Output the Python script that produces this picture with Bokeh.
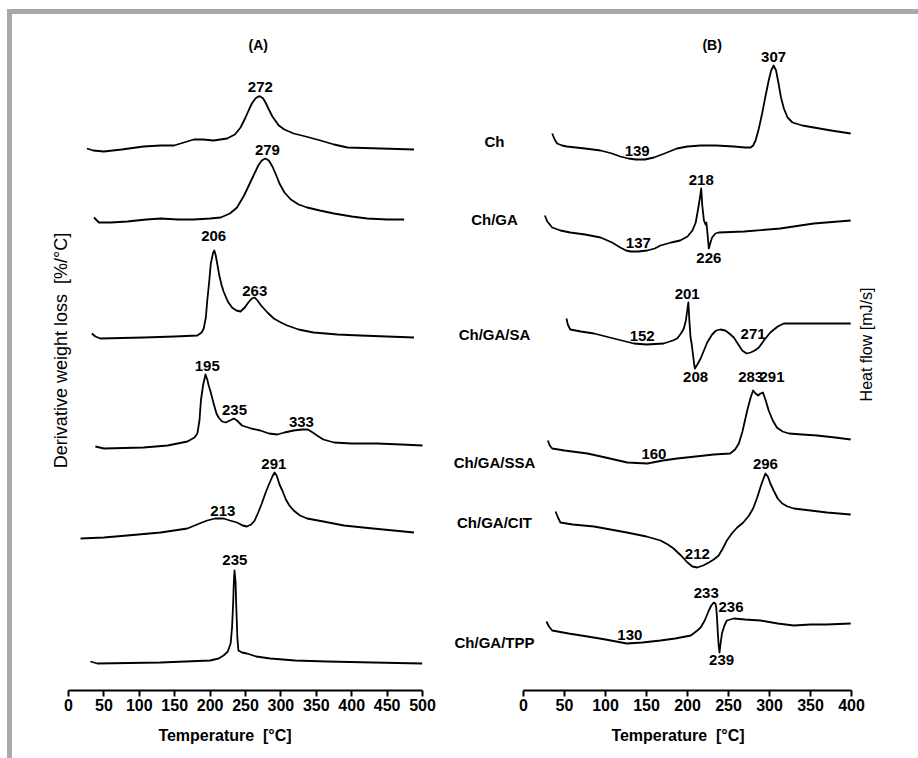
from bokeh.plotting import figure
from bokeh.layouts import row
from bokeh.models import Range1d, LinearAxis, FixedTicker
from bokeh.core.properties import value
from bokeh.embed import file_html
from bokeh.resources import INLINE

FONT = "Liberation Sans"

# ---------------- Panel A: DTG curves (temperature, relative signal) ----------------
a_names = ["Ch", "Ch/GA", "Ch/GA/SA", "Ch/GA/SSA", "Ch/GA/CIT", "Ch/GA/TPP"]
a_ch_t = [26, 35, 50, 75, 106, 130, 149, 163, 177, 190, 205, 224, 235, 243, 250, 255, 259, 264, 268,
          271, 275, 279, 283, 288, 293, 297, 305, 318, 335, 356, 375, 394, 441, 488]
a_ch_y = [1, -1, -2, 0, 3, 4, 4, 7, 10, 10, 9, 11, 15, 22, 32, 40, 46, 51, 53,
          53, 51, 46, 40, 33, 28, 24, 20, 16, 13, 9, 5, 2, 1, 0]
a_ga_t = [36, 43, 60, 83, 110, 130, 155, 177, 200, 215, 228, 238, 248, 256, 262, 268, 273, 278, 283,
          288, 293, 298, 305, 314, 325, 337, 355, 375, 400, 422, 450, 474]
a_ga_y = [2, -3, -3, -2, 0, 1, 0, 0, 1, 2, 6, 12, 24, 36, 45, 54, 59, 61, 59,
          53, 45, 36, 27, 20, 15, 12, 9, 6, 3, 1, 0, 0]
a_sa_t = [33, 38, 45, 106, 150, 182, 188, 191, 194, 196, 199, 201, 204, 206, 208, 210, 213, 216, 219,
          225, 231, 237, 243, 249, 254, 259, 263, 267, 272, 281, 290, 300, 309, 325, 346, 380, 412, 450, 488]
a_sa_y = [4, 1, -1, 0, 1, 2, 5, 9, 20, 37, 58, 74, 84, 87, 82, 74, 62, 53, 46,
          36, 30, 27, 26, 30, 35, 39, 40, 37, 32, 25, 19, 15, 12, 8, 5, 3, 2, 1, 0]
a_ssa_t = [38, 50, 106, 140, 168, 178, 182, 185, 187, 190, 193.5, 196, 198, 200.6, 205, 209, 212, 217,
           222, 228, 233.5, 238, 245, 258, 271, 283, 295, 305, 318, 330, 338, 345, 351, 360, 375, 400,
           436, 470, 500]
a_ssa_y = [-1, -3, -2, 0, 4, 8, 12, 25, 45, 60, 71, 66, 60, 54, 42, 32, 28, 24,
           23, 25, 27, 25, 20, 17, 15, 12, 11, 13, 15, 16, 16, 13, 10, 6, 3, 2,
           2, 1, 0]
a_cit_t = [17, 50, 83, 130, 168, 185, 196, 207, 219, 228, 238, 246, 252, 258, 263, 268, 273, 278, 283,
           288, 291, 294, 298, 302, 307, 312, 318, 327, 337, 360, 389, 430, 488]
a_cit_y = [-6, -5, -3, 0, 4, 9, 12, 14, 14, 12, 10, 7, 6, 8, 12, 20, 29, 39, 48,
           56, 60, 57, 48, 42, 33, 27, 22, 17, 14, 11, 7, 4, 0]
a_tpp_t = [31, 40.5, 130, 200, 212, 219, 225, 229, 231, 232.6, 233.5, 234.5, 236, 237, 238.5, 240,
           245, 252, 265, 285, 320, 365, 430, 499.5]
a_tpp_y = [1, -1, 0, 2, 4, 7, 11, 19, 35, 60, 80, 92, 80, 55, 25, 12,
           10, 9, 6, 4, 2, 1, 0, -1]
a_offsets = [541, 471, 353, 245, 158, 28]

a_peak_text = ["272", "279", "206", "263", "195", "235", "333", "291", "213", "235"]
a_peak_t = [271, 281, 205, 263, 196, 234.5, 329, 290, 218, 235]
a_peak_y = [604, 541, 455, 400, 325, 281, 269, 227, 180, 131]

# ---------------- Panel B: DSC curves ----------------
b_ch_t = [35, 38, 41, 47, 53, 75, 94, 108, 118, 128, 137, 148, 159, 172, 187, 200, 216, 235, 256.5, 270,
          277, 280, 283, 287, 291, 295, 299, 302, 305, 308, 311, 314, 317.5, 322, 328, 340, 354, 375, 399]
b_ch_y = [0, -6, -10, -12, -13, -15, -17, -20, -23, -25, -26, -26, -24, -20, -15, -13, -12, -12, -13, -14,
          -14, -12, -7, 5, 20, 37, 53, 63, 68, 63, 50, 36, 25, 16, 11, 8, 6, 3, 0]
b_ga_t = [26, 29, 35, 45, 57, 75, 94, 108, 118, 125, 130.5, 140, 151, 160, 167, 180, 191, 200, 206, 210,
          212.6, 215, 216.7, 218, 220, 222, 223, 224, 226, 228, 230, 234, 238, 269, 313, 354, 399]
b_ga_y = [5, -1, -7, -10, -12, -14, -17, -22, -27, -30, -31, -31, -30, -28, -25, -22, -20, -16, -10, -2,
          10, 22, 32, 15, 0, -4, -2, -10, -28, -22, -17, -13, -12, -11, -8, -3, 0]
b_sa_t = [52.4, 54, 57, 70, 86, 110, 134.5, 150, 171, 182, 187.4, 192, 195.5, 198, 201, 202.5, 203.7, 205,
          206.5, 208, 209, 212, 216, 220, 224, 230, 235, 240, 246, 251, 256.5, 262, 266.7, 272, 277, 282,
          287, 294, 301, 310, 317.5, 354, 399]
b_sa_y = [5, -1, -6, -8, -10, -15, -20, -21, -20, -17, -15, -10, -5, 3, 21, 0, -14, -20,
          -30, -40, -45, -41, -35, -27, -19, -11, -7, -6, -7, -10, -14, -21, -27, -30, -29, -27,
          -24, -16, -9, -3, 0, 0, 0]
b_ssa_t = [29.7, 32, 35, 50, 78, 100, 126.4, 151, 170, 187.4, 210, 232, 252, 258, 262.6, 267, 272.8, 277,
           280, 283, 286, 289, 292, 295, 299, 304, 309, 316, 323.6, 340, 358, 380, 399]
b_ssa_y = [-1, -6, -9, -11, -14, -18, -23, -24, -21, -19, -17, -15, -14, -10, -4, 8, 29, 42,
           49, 46, 44, 46, 47, 40, 29, 19, 12, 8, 6, 5, 4, 2, 0]
b_cit_t = [39, 42, 45, 60, 86, 126, 150, 167, 176, 183, 192, 200, 206, 212, 219, 226, 232, 238, 243, 248,
           254, 260.6, 268, 275, 280, 285, 290, 295, 298, 301, 305, 310, 315.5, 322, 329.6, 350, 370, 399]
b_cit_y = [3, -3, -8, -10, -12, -18, -22, -26, -30, -34, -41, -48, -52, -53, -51, -48, -45, -41, -34, -26,
           -19, -13, -8, -1, 6, 17, 30, 41, 38, 31, 24, 16, 11, 8, 6, 4, 2, 0]
b_tpp_t = [28, 31, 35, 55, 78, 100, 126, 145, 167, 185, 204, 212, 216, 221, 226, 229, 232, 234, 235, 236,
           237, 238, 239, 240, 242, 245, 248, 256.5, 270, 289, 310, 329.6, 350, 370, 399]
b_tpp_y = [2, -3, -7, -10, -13, -16, -20, -19, -17, -15, -12, -7, -4, 3, 13, 18, 21, 20, 16, 5,
           -10, -22, -29, -22, -10, -2, 3, 5, 4, 3, 0, -2, -1, -1, 0]
b_offsets = [557, 470, 367, 251, 176, 67]

b_peak_text = ["307", "139", "218", "137", "226", "201", "152", "208", "271", "283", "291",
               "160", "296", "212", "233", "236", "130", "239"]
b_peak_t = [305, 138.6, 216.7, 140, 226, 199.6, 144.7, 209.8, 280, 277, 303,
            159, 295, 212, 222.8, 253, 129.7, 241.5]
b_peak_y = [634, 540, 511, 448, 433, 397, 355, 314, 357, 314, 314,
            237, 227, 137, 98, 84, 56, 31]

name_y = [549, 471, 356, 228, 168, 48]

xticks_a = [0, 50, 100, 150, 200, 250, 300, 350, 400, 450, 500]
xticks_b = [0, 50, 100, 150, 200, 250, 300, 350, 400]

W_A, W_B = 425, 481
FRAME_H = 676
BOTTOM = 68
H = FRAME_H + BOTTOM


def make_fig(width, xstart, xend, bounds, ticks):
    p = figure(width=width, height=H, output_backend="svg", toolbar_location=None,
               x_range=Range1d(xstart, xend), y_range=Range1d(0, FRAME_H),
               x_axis_location=None, y_axis_location=None,
               min_border_left=0, min_border_right=0, min_border_top=0,
               min_border_bottom=BOTTOM)
    p.grid.visible = False
    p.outline_line_color = None
    p.background_fill_color = "white"
    p.border_fill_color = "white"
    ax = LinearAxis(bounds=bounds, ticker=FixedTicker(ticks=ticks))
    ax.axis_line_width = 2
    ax.axis_line_color = "black"
    ax.major_tick_line_width = 2
    ax.major_tick_out = 6
    ax.major_tick_in = 0
    ax.minor_tick_line_color = None
    ax.major_label_text_font = FONT
    ax.major_label_text_font_style = "bold"
    ax.major_label_text_font_size = "16px"
    ax.major_label_text_color = "black"
    ax.major_label_standoff = 2
    ax.axis_label = "Temperature\u00a0\u00a0[°C]"
    ax.axis_label_text_font = FONT
    ax.axis_label_text_font_style = "bold"
    ax.axis_label_text_font_size = "16px"
    ax.axis_label_text_color = "black"
    ax.axis_label_standoff = 13
    p.add_layout(ax, "below")
    return p


def txt(p, xs, ys, texts, size="15px", style="bold", angle=0, align="center"):
    p.text(x=xs, y=ys, text=texts, text_font=value(FONT), text_font_size=size,
           text_font_style=style, text_align=align, text_baseline="middle",
           text_color="black", angle=angle)


# Panel A: 0 C at x=68px, 500 C at 422px (0.708 px/C), canvas starts at 12px
a_start = -79.1
pA = make_fig(W_A, a_start, a_start + W_A / 0.708, (0, 500), xticks_a)
a_t = [a_ch_t, a_ga_t, a_sa_t, a_ssa_t, a_cit_t, a_tpp_t]
a_y = [a_ch_y, a_ga_y, a_sa_y, a_ssa_y, a_cit_y, a_tpp_y]
for ts, ys, off in zip(a_t, a_y, a_offsets):
    pA.line(ts, [v + off for v in ys], line_color="black", line_width=1.8,
            line_join="round")
txt(pA, a_peak_t, a_peak_y, a_peak_text)
txt(pA, [268], [646], ["(A)"], size="14px")
txt(pA, [-10], [340], ["Derivative weight loss\u00a0\u00a0[%/°C]"], size="18px", style="normal",
    angle=1.5708)

# Panel B: 0 C at 523px, 400 C at 851px (0.82 px/C), canvas starts at 437px
b_start = -104.9
pB = make_fig(W_B, b_start, b_start + W_B / 0.82, (0, 400), xticks_b)
b_t = [b_ch_t, b_ga_t, b_sa_t, b_ssa_t, b_cit_t, b_tpp_t]
b_y = [b_ch_y, b_ga_y, b_sa_y, b_ssa_y, b_cit_y, b_tpp_y]
for ts, ys, off in zip(b_t, b_y, b_offsets):
    pB.line(ts, [v + off for v in ys], line_color="black", line_width=1.8,
            line_join="round")
txt(pB, b_peak_t, b_peak_y, b_peak_text)
txt(pB, [-35.4] * len(a_names), name_y, a_names)
txt(pB, [230], [646], ["(B)"], size="14px")
txt(pB, [418.5], [346], ["Heat flow [mJ/s]"], size="16px", style="normal", angle=1.5708)

layout = row(pA, pB, styles={"border-left": "5px solid #a9a9ad",
                             "border-top": "5px solid #a9a9ad",
                             "margin-left": "7px", "margin-top": "9px"})

open("out.html", "w").write(file_html(layout, INLINE))
